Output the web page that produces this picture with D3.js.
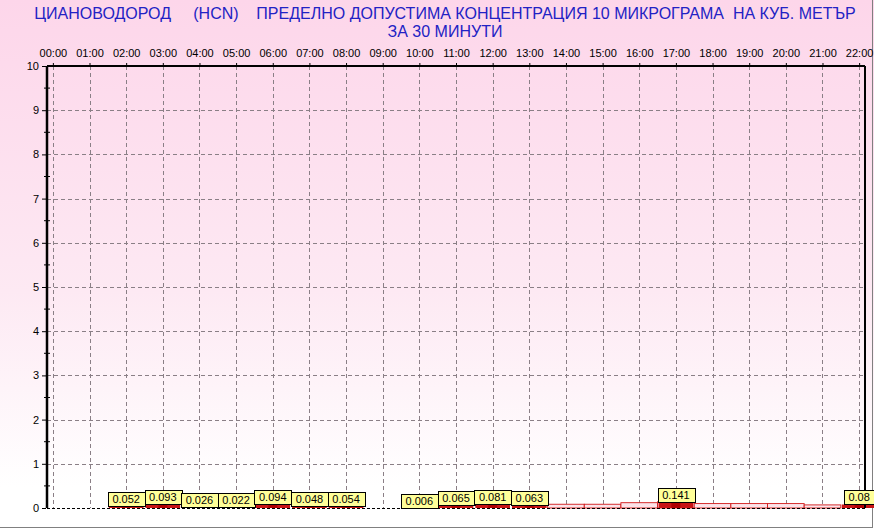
<!DOCTYPE html>
<html>
<head>
<meta charset="utf-8">
<script src="https://cdn.jsdelivr.net/npm/d3@7"></script>
<style>
  body { margin: 0; background: #fff; }
  svg { display: block; font-family: Arial, "Liberation Sans", sans-serif; }
</style>
</head>
<body>
<svg id="chart"></svg>
<script>
const width = 874, height = 529;

// hour tick labels along the top
const hourLabels = ["00:00","01:00","02:00","03:00","04:00","05:00","06:00","07:00","08:00","09:00","10:00",
                    "11:00","12:00","13:00","14:00","15:00","16:00","17:00","18:00","19:00","20:00","21:00","22:00"];
// labelled half-hour concentrations (hour index, value)
const labelHours = [2, 3, 4, 5, 6, 7, 8, 10, 11, 12, 13, 17, 22];
const labelValues = [0.052, 0.093, 0.026, 0.022, 0.094, 0.048, 0.054, 0.006, 0.065, 0.081, 0.063, 0.141, 0.08];
// unlabelled hourly level drawn as thin steps
const stepHours = [14, 15, 16, 17, 18, 19, 20, 21];
const stepValues = [0.085, 0.085, 0.12, 0.14, 0.1, 0.1, 0.1, 0.07];
const yTicks = [0, 1, 2, 3, 4, 5, 6, 7, 8, 9, 10];

const titleLine1 = "ЦИАНОВОДОРОД     (HCN)    ПРЕДЕЛНО ДОПУСТИМА КОНЦЕНТРАЦИЯ 10 МИКРОГРАМА  НА КУБ. МЕТЪР";
const titleLine2 = "ЗА 30 МИНУТИ";

const plot = { left: 47, right: 865, top: 66, bottom: 508 };

const x = d3.scaleLinear().domain([-0.16, 22.16]).range([plot.left, plot.right]);
const y = d3.scaleLinear().domain([0, 10]).range([plot.bottom, plot.top]);

const svg = d3.select("#chart").attr("width", width).attr("height", height);

// background gradient
const defs = svg.append("defs");
const grad = defs.append("linearGradient").attr("id", "bg").attr("x1", 0).attr("y1", 0).attr("x2", 0).attr("y2", 1);
grad.append("stop").attr("offset", "0%").attr("stop-color", "#fdd6ea");
grad.append("stop").attr("offset", "55%").attr("stop-color", "#fde9f3");
grad.append("stop").attr("offset", "92%").attr("stop-color", "#ffffff");

svg.append("rect").attr("width", width).attr("height", height).attr("fill", "url(#bg)");

// outer frame (grey)
svg.append("line").attr("x1", 0).attr("x2", 872).attr("y1", 527.5).attr("y2", 527.5)
  .attr("stroke", "#808080").attr("stroke-width", 1);
svg.append("line").attr("x1", 872.5).attr("x2", 872.5).attr("y1", 0).attr("y2", 528)
  .attr("stroke", "#808080").attr("stroke-width", 1);

// title
const title = svg.append("g").attr("fill", "#2222c4").style("font-size", "16px").attr("text-anchor", "middle");
title.append("text").attr("x", 445).attr("y", 19).style("white-space", "pre").text(titleLine1);
title.append("text").attr("x", 445).attr("y", 37).text(titleLine2);

// grid
const grid = svg.append("g").attr("stroke", "#8a7f86").attr("stroke-width", 1).attr("stroke-dasharray", "4,3");
grid.selectAll("line.v").data(hourLabels).enter().append("line")
  .attr("class", "v")
  .attr("x1", (d, i) => Math.round(x(i)) + 0.5).attr("x2", (d, i) => Math.round(x(i)) + 0.5)
  .attr("y1", plot.top).attr("y2", plot.bottom);
grid.selectAll("line.h").data(yTicks.slice(1, -1)).enter().append("line")
  .attr("class", "h")
  .attr("x1", plot.left).attr("x2", plot.right)
  .attr("y1", d => Math.round(y(d)) + 0.5).attr("y2", d => Math.round(y(d)) + 0.5);

// step level (thin rectangles spanning the hour)
const hw = x(1) - x(0);
svg.append("g").selectAll("rect").data(stepHours).enter().append("rect")
  .attr("x", d => x(d) - hw / 2)
  .attr("width", hw)
  .attr("y", (d, i) => y(stepValues[i]))
  .attr("height", (d, i) => y(0) - y(stepValues[i]))
  .attr("fill", "#fbe3e8")
  .attr("stroke", "#d01818")
  .attr("stroke-width", 0.9);

// bars under the labels
svg.append("g").selectAll("rect").data(labelHours).enter().append("rect")
  .attr("x", d => x(d) - hw / 2 + 1)
  .attr("width", hw - 2)
  .attr("y", (d, i) => y(labelValues[i]))
  .attr("height", (d, i) => y(0) - y(labelValues[i]))
  .attr("fill", "#c81414");
svg.append("g").selectAll("rect").data(labelHours).enter().append("rect")
  .attr("x", d => x(d) - 4.5)
  .attr("width", 9)
  .attr("y", (d, i) => y(labelValues[i]))
  .attr("height", (d, i) => y(0) - y(labelValues[i]))
  .attr("fill", "#b00000");

// axes frame
svg.append("line").attr("x1", plot.left).attr("x2", plot.left).attr("y1", plot.top).attr("y2", plot.bottom)
  .attr("stroke", "#000").attr("stroke-width", 2.5);
svg.append("line").attr("x1", plot.left).attr("x2", plot.right).attr("y1", plot.top).attr("y2", plot.top)
  .attr("stroke", "#000").attr("stroke-width", 2);
svg.append("line").attr("x1", plot.right).attr("x2", plot.right).attr("y1", plot.top).attr("y2", plot.bottom)
  .attr("stroke", "#000").attr("stroke-width", 2);
svg.append("line").attr("x1", plot.left).attr("x2", plot.right).attr("y1", plot.bottom + 0.5).attr("y2", plot.bottom + 0.5)
  .attr("stroke", "#000").attr("stroke-width", 1).attr("stroke-dasharray", "3,2");

// top axis with hour labels
const xAxis = d3.axisTop(x)
  .tickValues(d3.range(hourLabels.length))
  .tickFormat(i => hourLabels[i])
  .tickSize(3)
  .tickPadding(6);
const gx = svg.append("g").attr("transform", `translate(0,${plot.top})`).call(xAxis);
gx.select(".domain").remove();
gx.selectAll("text").style("font-size", "11px").attr("fill", "#000").style("font-family", "Arial, 'Liberation Sans', sans-serif");
gx.selectAll("line").attr("stroke", "#000");

// left axis
const yAxis = d3.axisLeft(y).tickValues(yTicks).tickSize(4).tickPadding(3);
const gy = svg.append("g").attr("transform", `translate(${plot.left - 1},0)`).call(yAxis);
gy.select(".domain").remove();
gy.selectAll("text").style("font-size", "11px").attr("fill", "#000").style("font-family", "Arial, 'Liberation Sans', sans-serif");
gy.selectAll("line").attr("stroke", "#000");
// minor ticks
svg.append("g").selectAll("line").data(d3.range(0.5, 10, 1)).enter().append("line")
  .attr("x1", plot.left - 3).attr("x2", plot.left + 3)
  .attr("y1", d => y(d)).attr("y2", d => y(d))
  .attr("stroke", "#000");

// value labels
const labels = svg.append("g").selectAll("g").data(labelHours).enter().append("g");
labels.each(function(d, i) {
  const g = d3.select(this);
  const txt = g.append("text")
    .attr("text-anchor", "middle")
    .style("font-size", "11px")
    .attr("x", x(d))
    .attr("y", y(labelValues[i]) - 3)
    .text(labelValues[i]);
  const w = txt.node().getComputedTextLength() + 9;
  g.insert("rect", "text")
    .attr("x", Math.round(x(d) - w / 2) + 0.5)
    .attr("y", Math.round(y(labelValues[i]) - 14) + 0.5)
    .attr("width", Math.round(w))
    .attr("height", 14)
    .attr("fill", "#ffff99")
    .attr("stroke", "#000");
});
</script>
</body>
</html>
